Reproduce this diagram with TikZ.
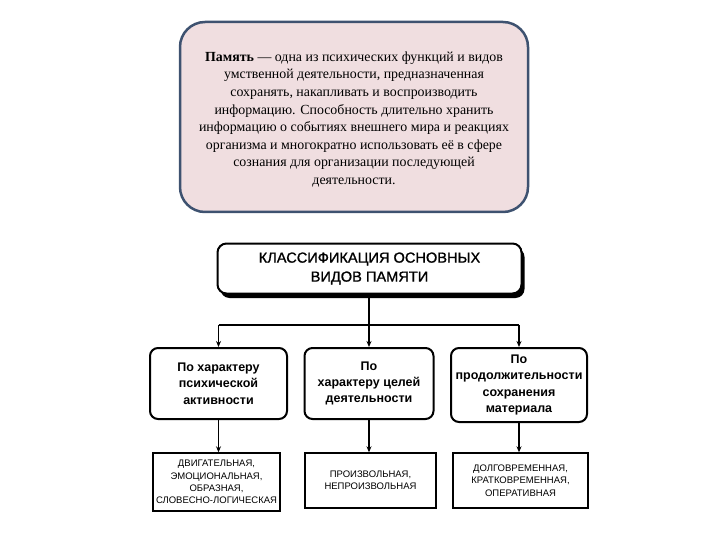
\documentclass[tikz,border=0pt]{standalone}
\usepackage{fontspec}
\setmainfont{Liberation Serif}
\newfontfamily\hsans{Liberation Sans}
\newfontfamily\hsansmed[FakeBold=1.2]{Liberation Sans}
\usetikzlibrary{arrows.meta}
\definecolor{pinkfill}{RGB}{240,222,224}
\definecolor{blueedge}{RGB}{62,82,112}
\tikzset{
  defbox/.style={draw=blueedge, line width=2.5pt, fill=pinkfill, rounded corners=25pt, inner sep=0pt,
    align=center, font=\fontsize{13.9}{17.6}\selectfont},
  headbox/.style={draw=black, line width=2pt, fill=white, rounded corners=9pt, inner sep=0pt,
    align=center, font=\hsansmed\fontsize{14.6}{19}\selectfont},
  headshadow/.style={fill=black, rounded corners=9pt, inner sep=0pt},
  midbox/.style={draw=black, line width=2pt, fill=white, rounded corners=8pt, inner sep=0pt,
    align=center, font=\hsans\bfseries\fontsize{12.5}{16.3}\selectfont},
  botbox/.style={draw=black, line width=1.4pt, fill=white, inner sep=0pt,
    align=center, font=\hsans\fontsize{9.5}{12.3}\selectfont},
  conn/.style={line width=1.3pt},
  arr/.style={line width=1.3pt, -{Stealth[length=6pt,width=5pt]}},
}
\begin{document}
\begin{tikzpicture}[x=1pt,y=-1pt]
\useasboundingbox (0,0) rectangle (720,540);
\node[defbox, minimum width=348pt, minimum height=190pt] (def) at (354,117) {};
\node[align=center, inner sep=0pt, font=\fontsize{13.9}{17.6}\selectfont] (deftext) at (354,119.5)
 {\textbf{Память} — одна из психических функций и видов\\
  умственной деятельности, предназначенная\\
  сохранять, накапливать и воспроизводить\\
  информацию. Способность длительно хранить\\
  информацию о событиях внешнего мира и реакциях\\
  организма и многократно использовать её в сфере\\
  сознания для организации последующей\\
  деятельности.};
\node[headshadow, minimum width=304pt, minimum height=50pt] (hs) at (372.5,273) {};
\node[headbox, minimum width=304pt, minimum height=50pt] (head) at (369.5,268.5)
 {КЛАССИФИКАЦИЯ ОСНОВНЫХ\\ВИДОВ ПАМЯТИ};
\node[midbox, minimum width=137pt, minimum height=71pt] (m1) at (218.5,383.5)
 {По характеру\\психической\\активности};
\node[midbox, minimum width=129pt, minimum height=71pt] (m2) at (369,383.5)
 {По\\характеру целей\\деятельности};
\node[midbox, minimum width=136pt, minimum height=74pt] (m3) at (519,385)
 {По\\продолжительности\\сохранения\\материала};
\node[botbox, minimum width=127pt, minimum height=58pt] (b1) at (216.5,482)
 {ДВИГАТЕЛЬНАЯ,\\ЭМОЦИОНАЛЬНАЯ,\\ОБРАЗНАЯ,\\СЛОВЕСНО-ЛОГИЧЕСКАЯ};
\node[botbox, minimum width=131pt, minimum height=55pt] (b2) at (370.5,480.5)
 {ПРОИЗВОЛЬНАЯ,\\НЕПРОИЗВОЛЬНАЯ};
\node[botbox, minimum width=135pt, minimum height=55pt] (b3) at (520.5,480.5)
 {ДОЛГОВРЕМЕННАЯ,\\КРАТКОВРЕМЕННАЯ,\\ОПЕРАТИВНАЯ};
\coordinate (j1) at (218.5,325);
\coordinate (j2) at (369,325);
\coordinate (j3) at (519,325);
\draw[conn] (hs.south -| j2) -- (j2);
\draw[conn] (j1) -- (j3);
\draw[arr] (j1) -- (m1.north);
\draw[arr] (j2) -- (m2.north);
\draw[arr] (j3) -- (m3.north);
\draw[arr] (m1.south) -- (m1.south |- b1.north);
\draw[arr] (m2.south) -- (m2.south |- b2.north);
\draw[arr] (m3.south) -- (m3.south |- b3.north);
\end{tikzpicture}
\end{document}
